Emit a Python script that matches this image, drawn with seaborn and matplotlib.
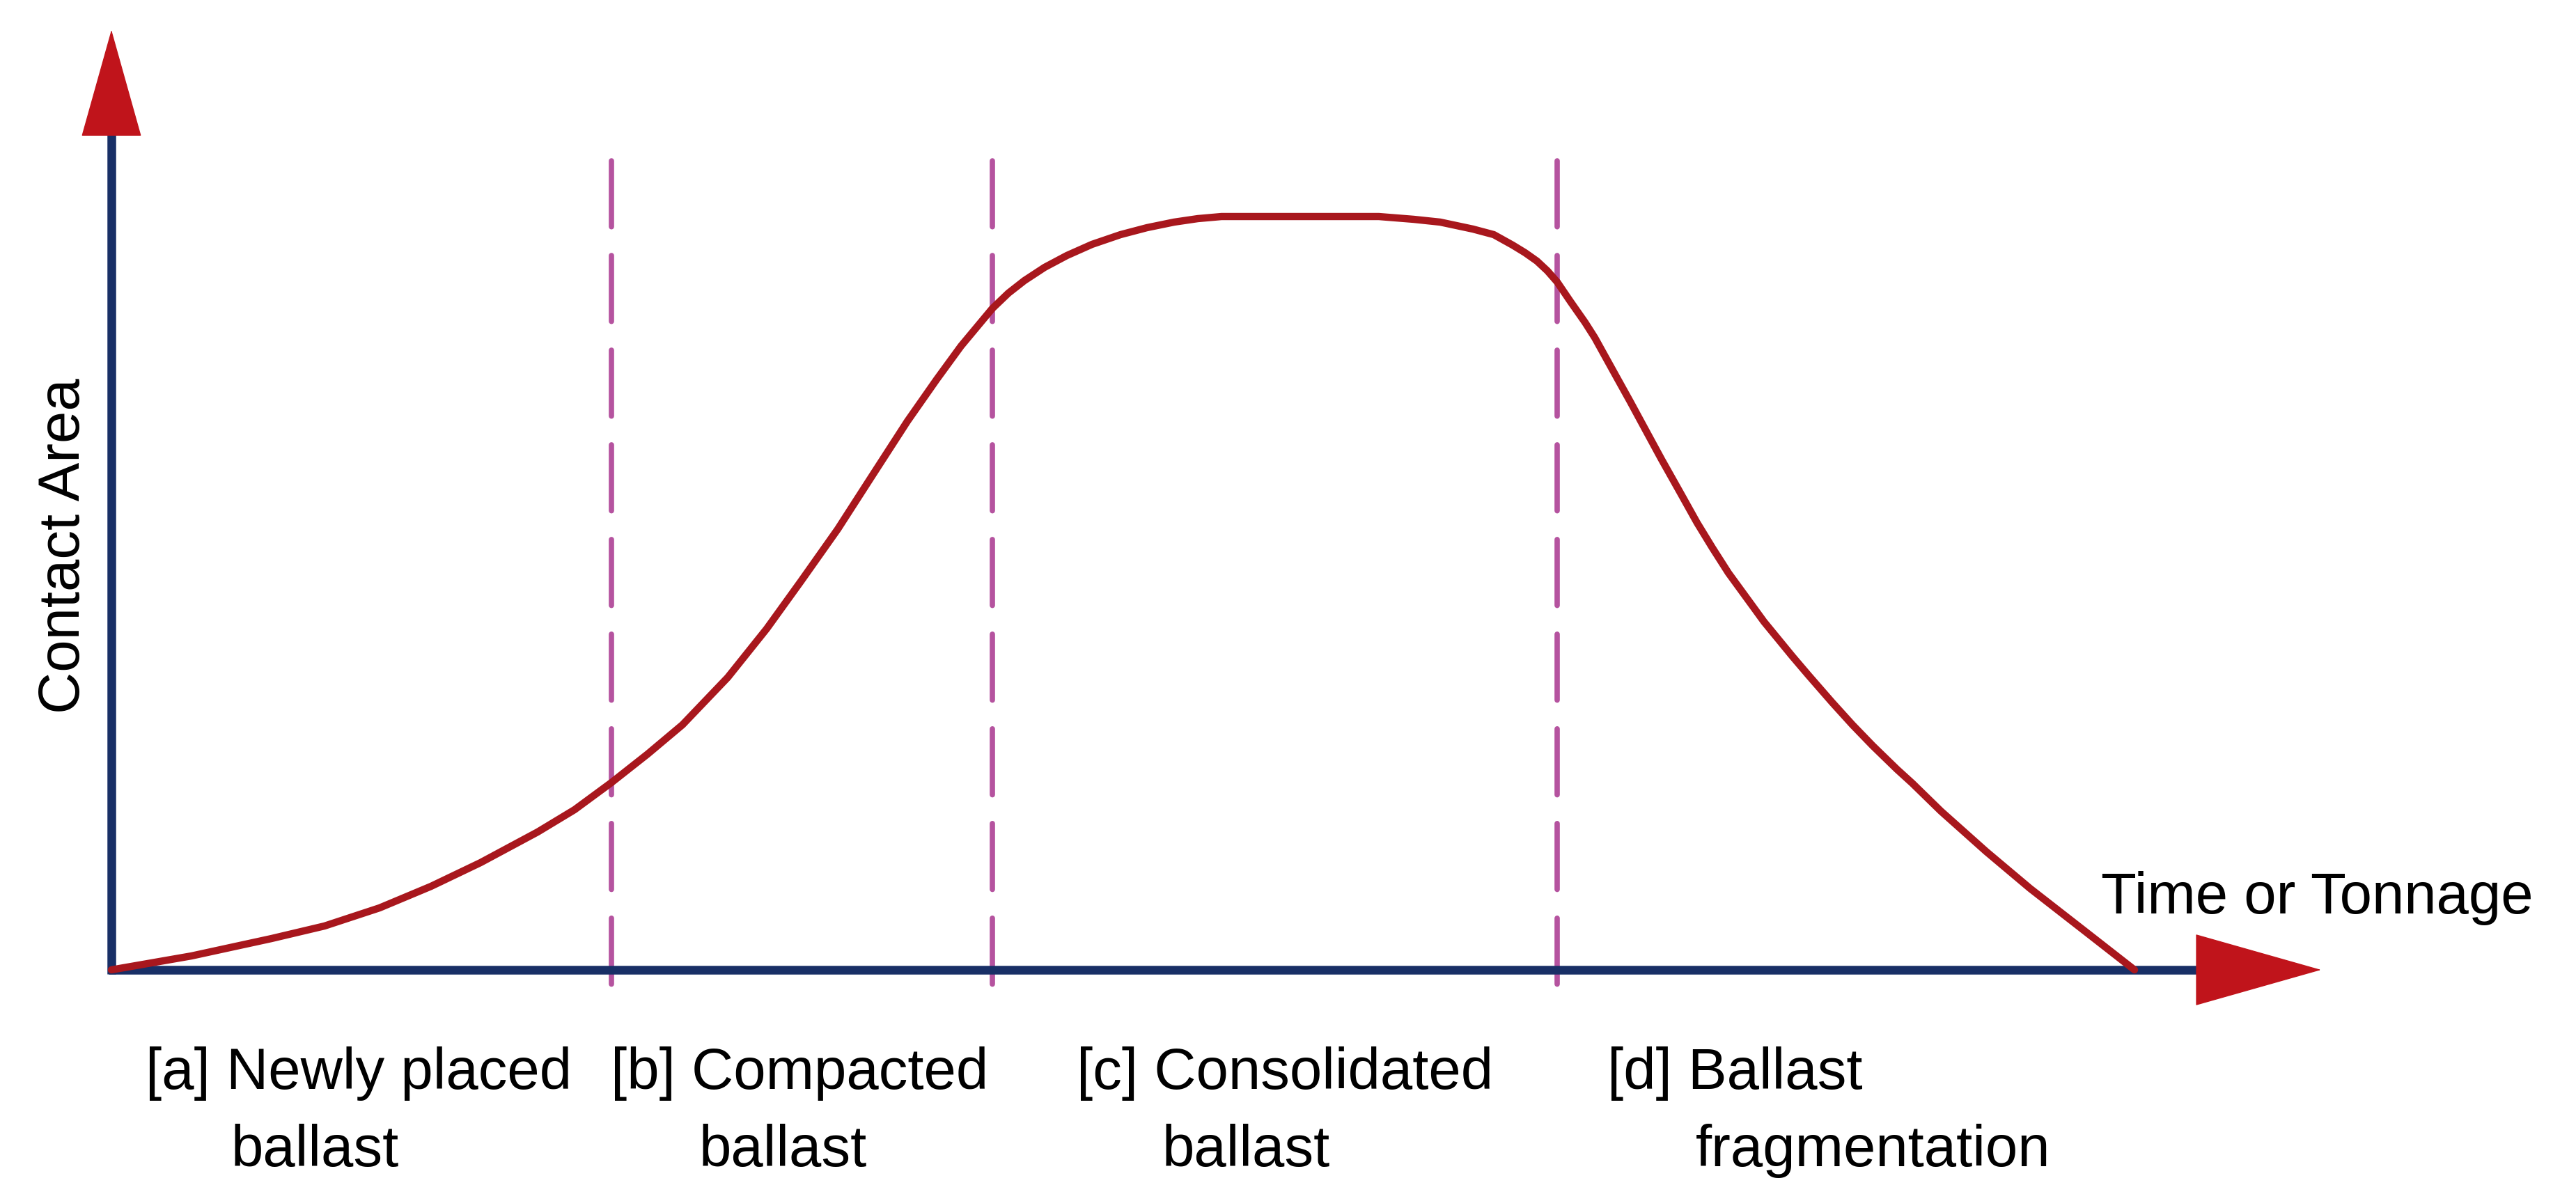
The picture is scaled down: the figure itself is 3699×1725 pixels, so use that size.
import numpy as np
import pandas as pd
import matplotlib
matplotlib.use("Agg")
import matplotlib.pyplot as plt
import seaborn as sns

# --- data (x = time/tonnage, y = contact area, arbitrary units) ---
time_vals = [0, 11.5, 23.0, 30.6, 38.5, 45.9, 53.0, 61.2, 66.5, 71.8, 77.0, 82.0,
             88.5, 94.1, 99.0, 104.3, 109.0, 114.3, 118.5, 122.0, 126.5, 128.8,
             131.1, 134.0, 137.2, 140.8, 144.9, 148.7, 152.6, 156.0, 159.4, 182.0,
             187.0, 190.8, 195.5, 198.5, 201.2, 203.0, 204.7, 206.2, 207.6, 209.5,
             211.6, 213.0, 216.1, 218.1, 220.7, 222.6, 225.3, 227.7, 229.9, 232.2,
             235.7, 237.3, 241.4, 243.7, 247.1, 250.0, 252.9, 256.4, 258.6, 262.7,
             269.2, 275.5, 283.2, 290.5]
contact_area = [0, 2.0, 4.5, 6.3, 8.9, 12.0, 15.4, 19.8, 23.0, 26.9, 31.0, 35.2,
                42.0, 49.0, 55.8, 63.3, 70.6, 78.8, 84.8, 89.6, 95.0, 97.2,
                99.0, 100.9, 102.6, 104.2, 105.6, 106.6, 107.4, 107.9, 108.2, 108.2,
                107.8, 107.4, 106.4, 105.6, 104.1, 103.0, 101.8, 100.4, 98.8, 96.0,
                93.0, 90.8, 85.2, 81.6, 76.8, 73.3, 68.5, 64.2, 60.6, 57.0,
                52.2, 50.0, 45.0, 42.3, 38.4, 35.2, 32.2, 28.8, 26.8, 22.8,
                17.0, 11.7, 5.7, 0]

phase_bounds = [71.8, 126.5, 207.6]
phase_first = ["[a] Newly placed", "[b] Compacted", "[c] Consolidated", "[d] Ballast"]
phase_second = ["ballast", "ballast", "ballast", "fragmentation"]
phase_first_x = [4.9, 71.7, 138.6, 214.8]
phase_second_x = [17.2, 84.4, 150.9, 227.5]

x_label = "Time or Tonnage"
y_label = "Contact Area"

navy = "#182F66"
red_head = "#C0141B"
curve_red = "#A8171D"
magenta = "#B5539F"

sns.set_style("white")
plt.rcParams["font.family"] = ["Liberation Sans", "DejaVu Sans"]

fig = plt.figure(figsize=(36.99, 17.25), dpi=100)
ax = fig.add_axes([0, 0, 1, 1])
ax.set_xlim(-16.0, 353.9)
ax.set_ylim(-33.2, 139.3)
ax.axis("off")

# axes drawn as arrows
ax.plot([0, 0], [-0.6, 121], color=navy, lw=9, solid_capstyle="butt", zorder=2)
ax.plot([-0.4, 300.5], [0, 0], color=navy, lw=9, solid_capstyle="butt", zorder=2)
ax.annotate("", xy=(0, 135.0), xytext=(0, 120.1),
            arrowprops=dict(arrowstyle="-|>,head_length=107,head_width=30",
                            mutation_scale=1, color=red_head, lw=1,
                            shrinkA=0, shrinkB=0), zorder=3)
ax.annotate("", xy=(317.3, 0), xytext=(299.6, 0),
            arrowprops=dict(arrowstyle="-|>,head_length=127,head_width=36",
                            mutation_scale=1, color=red_head, lw=1,
                            shrinkA=0, shrinkB=0), zorder=3)

# phase separators
for xb in phase_bounds:
    ax.plot([xb, xb], [116.2, -5.6], color=magenta, linewidth=5.5,
            linestyle=(0, (12.4, 5.4)), dash_capstyle="round", zorder=1)

# contact area curve
df = pd.DataFrame({"t": time_vals, "area": contact_area})
sns.lineplot(data=df, x="t", y="area", ax=ax, sort=False, color=curve_red,
             linewidth=7.5, zorder=4)
for ln in ax.get_lines()[-1:]:
    ln.set_solid_joinstyle("round")
    ln.set_solid_capstyle("round")

# labels
for txt, xx in zip(phase_first, phase_first_x):
    ax.text(xx, -17.1, txt, fontsize=60, ha="left", va="baseline", color="black")
for txt, xx in zip(phase_second, phase_second_x):
    ax.text(xx, -28.2, txt, fontsize=60, ha="left", va="baseline", color="black")

ax.text(285.7, 8.1, x_label, fontsize=60, ha="left", va="baseline", color="black")
ax.text(-6.8, 60.9, y_label, fontsize=60, rotation=90, ha="center", va="center",
        color="black")

fig.savefig("out.png", dpi=100, facecolor="white")
